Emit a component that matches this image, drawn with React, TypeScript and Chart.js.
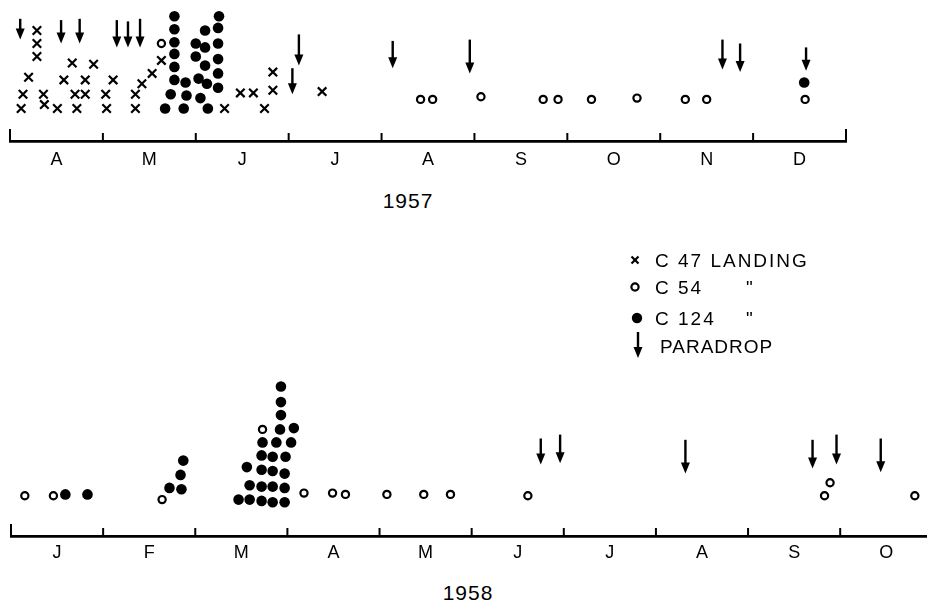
import React, { useEffect, useRef } from 'react';
import { Chart, registerables } from 'chart.js';

Chart.register(...registerables);

// ---------- DATA ----------
// x = months elapsed since the start of the first month shown on each axis
// y = height of the symbol above the axis, in symbol rows

const MONTHS_1957 = ['A', 'M', 'J', 'J', 'A', 'S', 'O', 'N', 'D'];
const MONTHS_1958 = ['J', 'F', 'M', 'A', 'M', 'J', 'J', 'A', 'S', 'O'];

// 1957 — C 47 landings
const C47_1957_X = [0.12, 0.14, 0.2, 0.29, 0.29, 0.29, 0.36, 0.37, 0.51, 0.58, 0.67, 0.7, 0.72, 0.81, 0.81, 0.9, 1.03, 1.04, 1.11, 1.35, 1.35, 1.42, 1.53, 1.63, 2.31, 2.48, 2.62, 2.74, 2.83, 2.83, 3.36];
const C47_1957_Y = [2.5, 3.6, 4.9, 6.5, 7.5, 8.5, 3.6, 2.8, 2.5, 4.7, 6.0, 3.6, 2.5, 4.7, 3.6, 5.9, 3.6, 2.5, 4.7, 3.6, 2.5, 4.4, 5.2, 6.2, 2.5, 3.7, 3.7, 2.5, 3.9, 5.3, 3.8];

// 1957 — C 54 landings
const C54_1957_X = [1.63, 4.42, 4.55, 5.07, 5.74, 5.9, 6.26, 6.75, 7.27, 7.5, 8.56];
const C54_1957_Y = [7.5, 3.2, 3.2, 3.4, 3.2, 3.2, 3.2, 3.3, 3.2, 3.2, 3.2];

// 1957 — C 124 landings
const C124_1957_X = [1.67, 1.73, 1.77, 1.77, 1.77, 1.77, 1.77, 1.77, 1.87, 1.9, 1.89, 2.0, 2.0, 2.03, 2.05, 2.1, 2.1, 2.1, 2.12, 2.13, 2.25, 2.24, 2.24, 2.24, 2.24, 2.24, 8.55];
const C124_1957_Y = [2.5, 3.6, 4.7, 5.7, 6.7, 7.6, 8.6, 9.6, 2.5, 3.5, 4.5, 7.5, 6.5, 4.8, 3.3, 8.5, 7.2, 5.8, 4.4, 2.5, 9.6, 8.7, 7.5, 6.3, 5.2, 4.1, 4.5];

// 1957 — paradrops (arrow tail and tip heights)
const DROP_1957_X = [0.11, 0.55, 0.75, 1.15, 1.27, 1.4, 3.04, 3.11, 4.12, 4.95, 7.67, 7.86, 8.57];
const DROP_1957_FROM = [9.4, 9.3, 9.4, 9.3, 9.2, 9.4, 5.6, 8.2, 7.7, 7.8, 7.8, 7.5, 7.2];
const DROP_1957_TO = [7.8, 7.5, 7.5, 7.2, 7.2, 7.2, 3.6, 5.8, 5.6, 5.2, 5.5, 5.3, 5.4];

// 1958 — C 54 landings
const C54_1958_X = [0.15, 0.46, 1.64, 2.73, 3.18, 3.49, 3.63, 4.08, 4.48, 4.77, 5.61, 8.83, 8.89, 9.81];
const C54_1958_Y = [3.1, 3.1, 2.8, 8.2, 3.3, 3.3, 3.2, 3.2, 3.2, 3.2, 3.1, 3.1, 4.1, 3.1];

// 1958 — C 124 landings
const C124_1958_X = [0.59, 0.83, 1.72, 1.85, 1.84, 1.87, 2.93, 2.93, 2.93, 2.92, 3.07, 2.73, 2.88, 3.04, 2.72, 2.84, 2.98, 2.56, 2.72, 2.84, 2.97, 2.59, 2.72, 2.84, 2.97, 2.47, 2.59, 2.72, 2.84, 2.97];
const C124_1958_Y = [3.2, 3.2, 3.7, 3.6, 4.7, 5.8, 11.5, 10.3, 9.3, 8.2, 8.3, 7.2, 7.2, 7.2, 6.2, 6.1, 6.1, 5.3, 5.1, 5.0, 4.8, 3.9, 3.8, 3.8, 3.7, 2.8, 2.8, 2.7, 2.6, 2.6];

// 1958 — paradrops
const DROP_1958_X = [5.75, 5.96, 7.32, 8.7, 8.96, 9.44];
const DROP_1958_FROM = [7.5, 7.8, 7.4, 7.4, 7.8, 7.5];
const DROP_1958_TO = [5.5, 5.6, 4.8, 5.2, 5.5, 4.9];

const LEGEND_LABELS = ['C 47 LANDING', 'C 54', 'C 124', 'PARADROP'];
const YEARS = ['1957', '1958'];

// ---------- CHART HELPERS ----------
const FONT = '"Liberation Sans", Arial, sans-serif';

const pts = (xs: number[], ys: number[]) => xs.map((x, i) => ({ x, y: ys[i] }));

const arrowPlugin = {
  id: 'paradrops',
  afterDatasetsDraw(chart: any, _args: any, opts: any) {
    const { ctx } = chart;
    const xs = chart.scales.x;
    const ys = chart.scales.y;
    ctx.save();
    ctx.strokeStyle = '#000';
    ctx.fillStyle = '#000';
    ctx.lineWidth = 2.4;
    (opts.xs as number[]).forEach((v, i) => {
      const px = xs.getPixelForValue(v);
      const y0 = ys.getPixelForValue(opts.from[i]);
      const y1 = ys.getPixelForValue(opts.to[i]);
      ctx.beginPath();
      ctx.moveTo(px, y0);
      ctx.lineTo(px, y1 - 7);
      ctx.stroke();
      ctx.beginPath();
      ctx.moveTo(px - 4.5, y1 - 11);
      ctx.lineTo(px + 4.5, y1 - 11);
      ctx.lineTo(px, y1);
      ctx.closePath();
      ctx.fill();
    });
    ctx.restore();
  },
};

const monthTickPlugin = {
  id: 'monthTicks',
  afterDraw(chart: any, _args: any, opts: any) {
    const { ctx, chartArea } = chart;
    const xs = chart.scales.x;
    ctx.save();
    ctx.strokeStyle = '#000';
    ctx.lineWidth = 2;
    (opts.bounds as number[]).forEach((v) => {
      const px = xs.getPixelForValue(v);
      const len = (opts.tall as number[]).includes(v) ? 12 : 8;
      ctx.beginPath();
      ctx.moveTo(px, chartArea.bottom);
      ctx.lineTo(px, chartArea.bottom - len);
      ctx.stroke();
    });
    ctx.restore();
  },
};

type PanelSpec = {
  months: string[];
  xMax: number;
  yMax: number;
  padLeft: number;
  padRight: number;
  padTop: number;
  labelPad: number;
  bounds: number[];
  tall: number[];
  c47?: [number[], number[]];
  c54: [number[], number[]];
  c124: [number[], number[]];
  drops: [number[], number[], number[]];
};

function panelConfig(p: PanelSpec): any {
  const datasets: any[] = [];
  if (p.c47) {
    datasets.push({
      label: LEGEND_LABELS[0],
      data: pts(p.c47[0], p.c47[1]),
      pointStyle: 'crossRot',
      pointRadius: 6,
      pointBorderWidth: 2.2,
      pointBorderColor: '#000',
      pointBackgroundColor: '#000',
      clip: false,
    });
  }
  datasets.push({
    label: LEGEND_LABELS[1],
    data: pts(p.c54[0], p.c54[1]),
    pointStyle: 'circle',
    pointRadius: 3.6,
    pointBorderWidth: 2.2,
    pointBorderColor: '#000',
    pointBackgroundColor: '#fff',
    clip: false,
  });
  datasets.push({
    label: LEGEND_LABELS[2],
    data: pts(p.c124[0], p.c124[1]),
    pointStyle: 'circle',
    pointRadius: 5.3,
    pointBorderWidth: 0,
    pointBorderColor: '#000',
    pointBackgroundColor: '#000',
    clip: false,
  });
  return {
    type: 'scatter',
    data: { datasets },
    options: {
      animation: false,
      responsive: false,
      maintainAspectRatio: false,
      events: [],
      layout: { padding: { left: p.padLeft, right: p.padRight, top: p.padTop, bottom: 0 } },
      plugins: {
        legend: { display: false },
        tooltip: { enabled: false },
        paradrops: { xs: p.drops[0], from: p.drops[1], to: p.drops[2] },
        monthTicks: { bounds: p.bounds, tall: p.tall },
      },
      scales: {
        x: {
          type: 'linear',
          min: 0,
          max: p.xMax,
          grid: { display: false },
          border: { display: true, color: '#000', width: 2.8 },
          afterBuildTicks: (scale: any) => {
            scale.ticks = p.months.map((_m, i) => ({ value: i + 0.5 }));
          },
          afterFit: (scale: any) => {
            scale.height = 40;
          },
          ticks: {
            autoSkip: false,
            maxRotation: 0,
            padding: p.labelPad,
            color: '#000',
            font: { family: FONT, size: 18 },
            callback: (_v: any, i: number) => p.months[i],
          },
        },
        y: { display: false, min: 0, max: p.yMax },
      },
    },
    plugins: [arrowPlugin, monthTickPlugin],
  };
}

function Panel({ spec, top, height }: { spec: PanelSpec; top: number; height: number }) {
  const ref = useRef<HTMLCanvasElement | null>(null);
  useEffect(() => {
    if (!ref.current) return;
    const chart = new Chart(ref.current, panelConfig(spec));
    return () => chart.destroy();
  }, [spec]);
  return (
    <canvas
      ref={ref}
      width={933}
      height={height}
      style={{ position: 'absolute', left: 0, top, width: 933, height }}
    />
  );
}

const SPEC_1957: PanelSpec = {
  months: MONTHS_1957,
  xMax: MONTHS_1957.length,
  yMax: 10,
  padLeft: 10,
  padRight: 87,
  padTop: 11,
  labelPad: 0,
  bounds: MONTHS_1957.map((_m, i) => i).concat([MONTHS_1957.length]),
  tall: [0, MONTHS_1957.length],
  c47: [C47_1957_X, C47_1957_Y],
  c54: [C54_1957_X, C54_1957_Y],
  c124: [C124_1957_X, C124_1957_Y],
  drops: [DROP_1957_X, DROP_1957_FROM, DROP_1957_TO],
};

const SPEC_1958: PanelSpec = {
  months: MONTHS_1958,
  xMax: 9.94,
  yMax: 12,
  padLeft: 11,
  padRight: 0,
  padTop: 20,
  labelPad: -2,
  bounds: MONTHS_1958.map((_m, i) => i),
  tall: [0],
  c54: [C54_1958_X, C54_1958_Y],
  c124: [C124_1958_X, C124_1958_Y],
  drops: [DROP_1958_X, DROP_1958_FROM, DROP_1958_TO],
};

// ---------- LEGEND ----------
const textStyle: React.CSSProperties = {
  position: 'absolute',
  fontFamily: FONT,
  fontSize: 19,
  lineHeight: '19px',
  letterSpacing: '2px',
  color: '#000',
  whiteSpace: 'nowrap',
};

function Legend() {
  const rows = [251, 278, 309, 337];
  return (
    <>
      <svg style={{ position: 'absolute', left: 0, top: 0 }} width={933} height={608}>
        <g stroke="#000" strokeWidth={2.2}>
          <line x1={631.5} y1={256.5} x2={638.5} y2={263.5} />
          <line x1={638.5} y1={256.5} x2={631.5} y2={263.5} />
        </g>
        <circle cx={635} cy={287} r={3.6} fill="#fff" stroke="#000" strokeWidth={2.2} />
        <circle cx={637} cy={318} r={5.2} fill="#000" />
        <line x1={638} y1={332} x2={638} y2={350} stroke="#000" strokeWidth={2.4} />
        <polygon points="633.5,347 642.5,347 638,358" fill="#000" />
      </svg>
      <div style={{ ...textStyle, left: 655, top: rows[0] }}>{LEGEND_LABELS[0]}</div>
      <div style={{ ...textStyle, left: 655, top: rows[1] }}>{LEGEND_LABELS[1]}</div>
      <div style={{ ...textStyle, left: 746, top: rows[1] }}>"</div>
      <div style={{ ...textStyle, left: 655, top: rows[2] }}>{LEGEND_LABELS[2]}</div>
      <div style={{ ...textStyle, left: 746, top: rows[2] }}>"</div>
      <div style={{ ...textStyle, left: 660, top: rows[3], letterSpacing: '1px' }}>{LEGEND_LABELS[3]}</div>
    </>
  );
}

const yearStyle: React.CSSProperties = {
  position: 'absolute',
  fontFamily: FONT,
  fontSize: 21,
  lineHeight: '21px',
  letterSpacing: '1px',
  color: '#000',
  width: 120,
  textAlign: 'center',
};

export default function App() {
  return (
    <div style={{ position: 'absolute', left: 0, top: 0, width: 933, height: 608, background: '#fff', overflow: 'hidden' }}>
      <Panel spec={SPEC_1957} top={0} height={181} />
      <Panel spec={SPEC_1958} top={360} height={216} />
      <div style={{ ...yearStyle, left: 408 - 60, top: 190 }}>{YEARS[0]}</div>
      <div style={{ ...yearStyle, left: 468 - 60, top: 582 }}>{YEARS[1]}</div>
      <Legend />
    </div>
  );
}
